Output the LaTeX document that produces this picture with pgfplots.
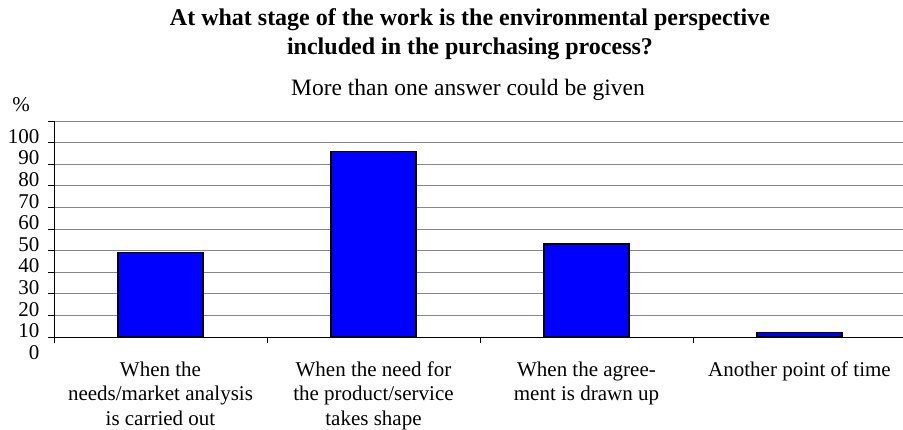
\documentclass[border=0pt]{standalone}
\usepackage{fontspec}
\setmainfont{Liberation Serif}
\usepackage{pgfplots}
\pgfplotsset{compat=1.18}
\definecolor{barblue}{RGB}{0,0,255}
\definecolor{gridgray}{RGB}{135,135,135}
\begin{document}
\begin{tikzpicture}
\useasboundingbox (0pt,0pt) rectangle (903pt,-430pt);
\node[font=\fontsize{24}{29}\selectfont\bfseries, align=center] at (470pt,-34.5pt)
  {At what stage of the work is the environmental perspective\\included in the purchasing process?};
\node[font=\fontsize{23.5}{28}\selectfont] at (468pt,-90pt) {More than one answer could be given};
\node[font=\fontsize{21}{21}\selectfont] at (21pt,-105pt) {\%};
\begin{axis}[
  at={(54pt,-337pt)}, anchor=south west,
  scale only axis, width=849pt, height=216pt,
  xmin=-0.5, xmax=3.486, ymin=0, ymax=100,
  axis x line*=bottom, axis y line*=left,
  axis line style={-, black, line width=0.9pt},
  ytick={0,10,...,100},
  ymajorgrids, grid style={gridgray, line width=0.9pt},
  xtick={0,1,2,3},
  xticklabels={{When the\\needs/market analysis\\is carried out},
               {When the need for\\the product/service\\takes shape},
               {When the agree-\\ment is drawn up},
               {Another point of time}},
  minor xtick={-0.5,0.5,1.5,2.5},
  major x tick style={draw=none},
  tick align=outside,
  major tick length=6pt, minor tick length=6pt,
  tick style={black, line width=0.9pt},
  /pgf/number format/assume math mode=true,
  yticklabel style={font=\fontsize{21}{21}\selectfont, yshift=-15.5pt, xshift=-5pt},
  xticklabel style={font=\fontsize{21}{24.5}\selectfont, align=center, anchor=north, yshift=-15pt},
]
\addplot[ybar, bar width=85pt, fill=barblue, draw=black, line width=1.3pt]
  coordinates {(0,39) (1,86) (2,43) (3,2)};
\end{axis}
\end{tikzpicture}
\end{document}
